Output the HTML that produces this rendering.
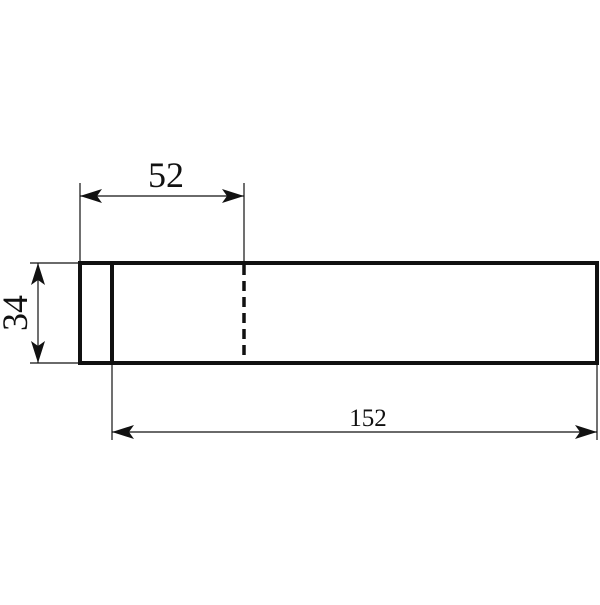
<!DOCTYPE html>
<html><head><style>body{margin:0;background:#fff}</style></head><body>
<svg width="600" height="600" xmlns="http://www.w3.org/2000/svg" style="font-family:'Liberation Serif',serif">
<rect x="0" y="0" width="600" height="600" fill="#fff"/>
<g stroke="#111" stroke-width="4" fill="none">
<rect x="80" y="263" width="517" height="100"/>
<line x1="112" y1="263" x2="112" y2="363"/>
<line x1="244" y1="265" x2="244" y2="361" stroke-dasharray="10,6" stroke-width="3.5"/>
</g>
<g stroke="#111" stroke-width="1.2">
<line x1="80" y1="183" x2="80" y2="263"/>
<line x1="244" y1="183" x2="244" y2="263"/>
<line x1="80" y1="196" x2="244" y2="196"/>
<line x1="30" y1="263" x2="80" y2="263"/>
<line x1="30" y1="363" x2="80" y2="363"/>
<line x1="38" y1="263" x2="38" y2="363"/>
<line x1="112" y1="363" x2="112" y2="440"/>
<line x1="597" y1="363" x2="597" y2="440"/>
<line x1="112" y1="432" x2="597" y2="432"/>
</g>
<g fill="#111">
<polygon points="80,196 102,189 97,196 102,203"/>
<polygon points="244,196 222,189 227,196 222,203"/>
<polygon points="38,263 31,285 38,280 45,285"/>
<polygon points="38,363 31,341 38,346 45,341"/>
<polygon points="112,432 134,425 129,432 134,439"/>
<polygon points="597,432 575,425 580,432 575,439"/>
</g>
<text x="166" y="187" font-size="36" text-anchor="middle" fill="#111">52</text>
<text x="0" y="0" font-size="36" text-anchor="middle" fill="#111" transform="translate(27,313) rotate(-90)">34</text>
<text x="368" y="426" font-size="25" text-anchor="middle" fill="#111">152</text>
</svg>
</body></html>
